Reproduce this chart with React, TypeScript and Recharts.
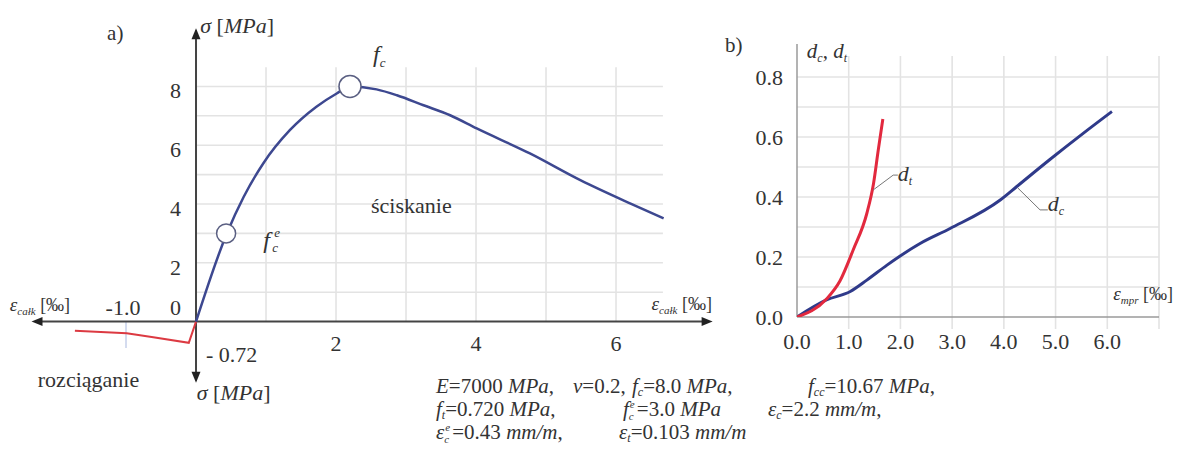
import React from 'react';
import { ComposedChart, LineChart, Line, XAxis, YAxis, ReferenceLine, ReferenceDot } from 'recharts';

const FONT = '"Liberation Serif", "DejaVu Serif", serif';
const BLUE = '#3d4890';
const RED = '#dc3a42';
const DC_BLUE = '#2f3a8a';
const DT_RED = '#e2293e';
const GRID = '#e3e3e3';
const AXIS = '#444';
const INK = '#333';

// a) sigma - eps (compression / tension)
const compStrain = [0, 0.44, 0.68, 0.96, 1.34, 1.72, 2.01, 2.2, 2.58, 2.87, 3.25, 3.63, 4.01, 4.77, 5.49, 6.2, 6.68];
const compStress = [0, 3.0, 4.24, 5.38, 6.51, 7.31, 7.76, 8.0, 7.9, 7.7, 7.36, 7.02, 6.57, 5.72, 4.81, 4.02, 3.51];
const tensStrain = [0, -0.103, -0.61, -0.99, -1.73];
const tensStress = [0, -0.72, -0.53, -0.4, -0.31];
const fcePoint = { x: 0.43, y: 3.0 };
const fcPoint = { x: 2.2, y: 8.0 };
const sigmaTicks = [2, 4, 6, 8];
const strainTicks = [2, 4, 6];
const gridStrain = [1, 2, 3, 4, 5, 6];
const gridStress = [1, 2, 3, 4, 5, 6, 7, 8];

// b) damage d_c, d_t
const dtStrain = [0, 0.57, 0.83, 1.09, 1.35, 1.48, 1.57, 1.66];
const dtDamage = [0, 0.06, 0.12, 0.225, 0.345, 0.445, 0.555, 0.66];
const dcStrain = [0, 0.57, 1.03, 1.35, 1.74, 2.38, 2.96, 3.93, 4.25, 4.89, 5.54, 6.09];
const dcDamage = [0, 0.057, 0.085, 0.123, 0.173, 0.245, 0.295, 0.39, 0.435, 0.525, 0.613, 0.685];
const damageTicks = [0, 0.2, 0.4, 0.6, 0.8];
const mprTicks = [0, 1, 2, 3, 4, 5, 6];
const damageGrid = [0.1, 0.2, 0.3, 0.4, 0.5, 0.6, 0.7, 0.8];
const mprGrid = [1, 2, 3, 4, 5, 6, 7];

const zip = (xs: number[], ys: number[]) => xs.map((x, i) => ({ x, y: ys[i] }));

type TOpts = { dx?: number; dy?: number; anchor?: 'start' | 'middle' | 'end'; size?: number; italic?: boolean };

const txt = (content: React.ReactNode, o: TOpts = {}) => (p: any) => (
  <text
    x={p.cx + (o.dx ?? 0)}
    y={p.cy + (o.dy ?? 0)}
    textAnchor={o.anchor ?? 'start'}
    fontFamily={FONT}
    fontSize={o.size ?? 22}
    fontStyle={o.italic ? 'italic' : 'normal'}
    fill={INK}
  >
    {content}
  </text>
);

const arrow = (dir: 'up' | 'down' | 'left' | 'right') => (p: any) => {
  const { cx, cy } = p;
  const L = 11, W = 4.5;
  let pts = '';
  if (dir === 'right') pts = `${cx},${cy} ${cx - L},${cy - W} ${cx - L},${cy + W}`;
  if (dir === 'left') pts = `${cx},${cy} ${cx + L},${cy - W} ${cx + L},${cy + W}`;
  if (dir === 'up') pts = `${cx},${cy} ${cx - W},${cy + L} ${cx + W},${cy + L}`;
  if (dir === 'down') pts = `${cx},${cy} ${cx - W},${cy - L} ${cx + W},${cy - L}`;
  return <polygon points={pts} fill="#222" />;
};

const sigmaLabel = (
  <>
    <tspan fontStyle="italic">σ</tspan>
    <tspan> [</tspan>
    <tspan fontStyle="italic">MPa</tspan>
    <tspan>]</tspan>
  </>
);

const epsLabel = (sub: string) => (
  <>
    <tspan fontStyle="italic" fontSize={19}>ε</tspan>
    <tspan fontStyle="italic" fontSize={11} dy={4}>{sub}</tspan>
    <tspan fontSize={18} dy={-4}> [‰]</tspan>
  </>
);

const fceShape = (p: any) => (
  <g fontFamily={FONT} fill={INK} fontStyle="italic">
    <text x={p.cx} y={p.cy} fontSize={24}>f</text>
    <text x={p.cx + 11} y={p.cy - 11} fontSize={13}>e</text>
    <text x={p.cx + 9} y={p.cy + 4} fontSize={13}>c</text>
  </g>
);

function StressStrain() {
  const comp = zip(compStrain, compStress);
  const tens = zip(tensStrain, tensStress);
  return (
    <ComposedChart width={740} height={453} margin={{ top: 0, right: 0, bottom: 0, left: 0 }}>
      <XAxis type="number" dataKey="x" domain={[-2.8, 7.771]} hide allowDataOverflow />
      <YAxis type="number" dataKey="y" domain={[-4.47, 10.94]} hide allowDataOverflow />
      {gridStrain.map((v) => (
        <ReferenceLine key={'gx' + v} segment={[{ x: v, y: 0 }, { x: v, y: 8.65 }]} stroke={GRID} strokeWidth={1.6} />
      ))}
      {gridStress.map((v) => (
        <ReferenceLine key={'gy' + v} segment={[{ x: 0, y: v }, { x: 6.67, y: v }]} stroke={GRID} strokeWidth={1.6} />
      ))}
      <ReferenceLine segment={[{ x: -1, y: 0 }, { x: -1, y: -0.9 }]} stroke="#c6d0ea" strokeWidth={1.5} />
      <ReferenceLine segment={[{ x: -2.3, y: 0 }, { x: 7.3, y: 0 }]} stroke={AXIS} strokeWidth={2} />
      <ReferenceLine segment={[{ x: 0, y: -2.0 }, { x: 0, y: 9.9 }]} stroke={AXIS} strokeWidth={2} />
      <ReferenceDot x={7.38} y={0} shape={arrow('right')} ifOverflow="visible" />
      <ReferenceDot x={-2.35} y={0} shape={arrow('left')} ifOverflow="visible" />
      <ReferenceDot x={0} y={9.98} shape={arrow('up')} ifOverflow="visible" />
      <ReferenceDot x={0} y={-2.08} shape={arrow('down')} ifOverflow="visible" />

      <Line data={tens} dataKey="y" type="linear" stroke={RED} strokeWidth={2} dot={false} activeDot={false} isAnimationActive={false} />
      <Line data={comp} dataKey="y" type="monotone" stroke={BLUE} strokeWidth={2.5} dot={false} activeDot={false} isAnimationActive={false} />
      <ReferenceDot x={fcePoint.x} y={fcePoint.y} r={9.5} fill="#fff" stroke="#5a5f82" strokeWidth={1.5} />
      <ReferenceDot x={fcPoint.x} y={fcPoint.y} r={11} fill="#fff" stroke="#5a5f82" strokeWidth={1.5} />

      {sigmaTicks.map((v) => (
        <ReferenceDot key={'st' + v} x={0} y={v} shape={txt(String(v), { dx: -15, dy: 12, anchor: 'end' })} ifOverflow="visible" />
      ))}
      {strainTicks.map((v) => (
        <ReferenceDot key={'et' + v} x={v} y={0} shape={txt(String(v), { dy: 29, anchor: 'middle' })} ifOverflow="visible" />
      ))}
      <ReferenceDot x={0} y={0} shape={txt('0', { dx: -15, dy: -7, anchor: 'end' })} ifOverflow="visible" />
      <ReferenceDot x={-1} y={0} shape={txt('-1.0', { dx: -3, dy: -7, anchor: 'middle' })} ifOverflow="visible" />
      <ReferenceDot x={0} y={-0.72} shape={txt('- 0.72', { dx: 10, dy: 19 })} ifOverflow="visible" />

      <ReferenceDot x={0.06} y={9.81} shape={txt(sigmaLabel, { size: 22 })} ifOverflow="visible" />
      <ReferenceDot x={0.01} y={-2.67} shape={txt(sigmaLabel, { size: 22 })} ifOverflow="visible" />
      <ReferenceDot x={-1.27} y={9.57} shape={txt('a)', { size: 21 })} ifOverflow="visible" />
      <ReferenceDot
        x={2.53}
        y={8.83}
        shape={txt(
          <>
            <tspan fontStyle="italic" fontSize={24}>f</tspan>
            <tspan fontStyle="italic" fontSize={13} dy={5}>c</tspan>
          </>
        )}
        ifOverflow="visible"
      />
      <ReferenceDot x={0.96} y={2.5} shape={fceShape} ifOverflow="visible" />
      <ReferenceDot x={2.5} y={3.69} shape={txt('ściskanie', { size: 22 })} ifOverflow="visible" />
      <ReferenceDot x={-2.26} y={-2.23} shape={txt('rozciąganie', { size: 22 })} ifOverflow="visible" />
      <ReferenceDot x={7.37} y={0.39} shape={txt(epsLabel('całk'), { anchor: 'end' })} ifOverflow="visible" />
      <ReferenceDot x={-2.66} y={0.36} shape={txt(epsLabel('całk'))} ifOverflow="visible" />
    </ComposedChart>
  );
}

function Damage() {
  const dt = zip(dtStrain, dtDamage);
  const dc = zip(dcStrain, dcDamage);
  const tick = { fontFamily: FONT, fontSize: 22, fill: INK };
  return (
    <LineChart width={479} height={453} margin={{ top: 77, right: 20, bottom: 106, left: 0 }}>
      <XAxis
        type="number"
        dataKey="x"
        domain={[0, 7]}
        ticks={mprTicks}
        tickFormatter={(v: number) => v.toFixed(1)}
        axisLine={false}
        tickLine={false}
        tickMargin={10}
        tick={tick}
        height={30}
        allowDataOverflow
      />
      <YAxis
        type="number"
        dataKey="y"
        domain={[0, 0.8]}
        ticks={damageTicks}
        tickFormatter={(v: number) => v.toFixed(1)}
        axisLine={false}
        tickLine={false}
        tickMargin={8}
        tick={tick}
        width={97}
        allowDataOverflow
      />
      {mprGrid.map((v) => (
        <ReferenceLine key={'bx' + v} segment={[{ x: v, y: -0.04 }, { x: v, y: 0.87 }]} stroke={GRID} strokeWidth={1.6} ifOverflow="visible" />
      ))}
      {damageGrid.map((v) => (
        <ReferenceLine key={'by' + v} segment={[{ x: 0, y: v }, { x: 7, y: v }]} stroke={GRID} strokeWidth={1.6} ifOverflow="visible" />
      ))}
      <ReferenceLine segment={[{ x: 0, y: 0 }, { x: 7, y: 0 }]} stroke="#9a9a9a" strokeWidth={1.5} ifOverflow="visible" />
      <ReferenceLine segment={[{ x: 0, y: 0 }, { x: 0, y: 0.91 }]} stroke="#9a9a9a" strokeWidth={1.5} ifOverflow="visible" />

      <Line data={dc} dataKey="y" type="monotone" stroke={DC_BLUE} strokeWidth={3} dot={false} activeDot={false} isAnimationActive={false} />
      <Line data={dt} dataKey="y" type="monotone" stroke={DT_RED} strokeWidth={3} dot={false} activeDot={false} isAnimationActive={false} />

      <ReferenceLine segment={[{ x: 1.47, y: 0.423 }, { x: 1.86, y: 0.473 }]} stroke="#777" strokeWidth={1} />
      <ReferenceLine segment={[{ x: 1.86, y: 0.473 }, { x: 1.95, y: 0.473 }]} stroke="#777" strokeWidth={1} />
      <ReferenceLine segment={[{ x: 4.27, y: 0.43 }, { x: 4.7, y: 0.357 }]} stroke="#777" strokeWidth={1} />
      <ReferenceLine segment={[{ x: 4.7, y: 0.357 }, { x: 4.85, y: 0.357 }]} stroke="#777" strokeWidth={1} />

      <ReferenceDot
        x={1.95}
        y={0.453}
        shape={txt(
          <>
            <tspan fontStyle="italic">d</tspan>
            <tspan fontStyle="italic" fontSize={12} dy={4}>t</tspan>
          </>
        )}
        ifOverflow="visible"
      />
      <ReferenceDot
        x={4.85}
        y={0.353}
        shape={txt(
          <>
            <tspan fontStyle="italic">d</tspan>
            <tspan fontStyle="italic" fontSize={12} dy={4}>c</tspan>
          </>
        )}
        ifOverflow="visible"
      />
      <ReferenceDot
        x={0.19}
        y={0.863}
        shape={txt(
          <>
            <tspan fontStyle="italic">d</tspan>
            <tspan fontStyle="italic" fontSize={12} dy={4}>c</tspan>
            <tspan dy={-4}>, </tspan>
            <tspan fontStyle="italic">d</tspan>
            <tspan fontStyle="italic" fontSize={12} dy={4}>t</tspan>
          </>,
          { size: 21 }
        )}
        ifOverflow="visible"
      />
      <ReferenceDot x={-1.39} y={0.883} shape={txt('b)', { size: 21 })} ifOverflow="visible" />
      <ReferenceDot x={7.27} y={0.057} shape={txt(epsLabel('mpr'), { anchor: 'end' })} ifOverflow="visible" />
    </LineChart>
  );
}

const Sub = ({ c }: { c: string }) => (
  <span style={{ fontSize: 12, position: 'relative', top: 3, fontStyle: 'italic' }}>{c}</span>
);
const Stack = ({ up, down }: { up: string; down: string }) => (
  <span style={{ position: 'relative', display: 'inline-block', width: 8, height: 8, fontSize: 11, lineHeight: 1, fontStyle: 'italic' }}>
    <span style={{ position: 'absolute', left: 1, top: -9 }}>{up}</span>
    <span style={{ position: 'absolute', left: 0, top: 3 }}>{down}</span>
  </span>
);

const row = (left: number, top: number, content: React.ReactNode) => (
  <span style={{ position: 'absolute', left, top, whiteSpace: 'nowrap', lineHeight: 1 }}>{content}</span>
);

export default function App() {
  return (
    <div style={{ position: 'absolute', left: 0, top: 0, width: 1179, height: 453, background: '#fff', overflow: 'hidden' }}>
      <div style={{ position: 'absolute', left: 0, top: 0 }}>
        <StressStrain />
      </div>
      <div style={{ position: 'absolute', left: 700, top: 0 }}>
        <Damage />
      </div>
      <div style={{ position: 'absolute', left: 0, top: 0, fontFamily: FONT, fontSize: 21, color: INK }}>
        {row(436, 376, <><i>E</i>=7000 <i>MPa</i>,</>)}
        {row(573, 376, <><i>ν</i>=0.2,</>)}
        {row(632, 376, <><i>f</i><Sub c="c" />=8.0 <i>MPa</i>,</>)}
        {row(808, 376, <><i>f</i><Sub c="cc" />=10.67 <i>MPa</i>,</>)}
        {row(436, 399, <><i>f</i><Sub c="t" />=0.720 <i>MPa</i>,</>)}
        {row(623, 399, <><i>f</i><Stack up="e" down="c" />=3.0 <i>MPa</i></>)}
        {row(768, 399, <><i>ε</i><Sub c="c" />=2.2 <i>mm/m</i>,</>)}
        {row(436, 422, <><i>ε</i><Stack up="e" down="c" />=0.43 <i>mm/m</i>,</>)}
        {row(619, 422, <><i>ε</i><Sub c="t" />=0.103 <i>mm/m</i></>)}
      </div>
    </div>
  );
}
